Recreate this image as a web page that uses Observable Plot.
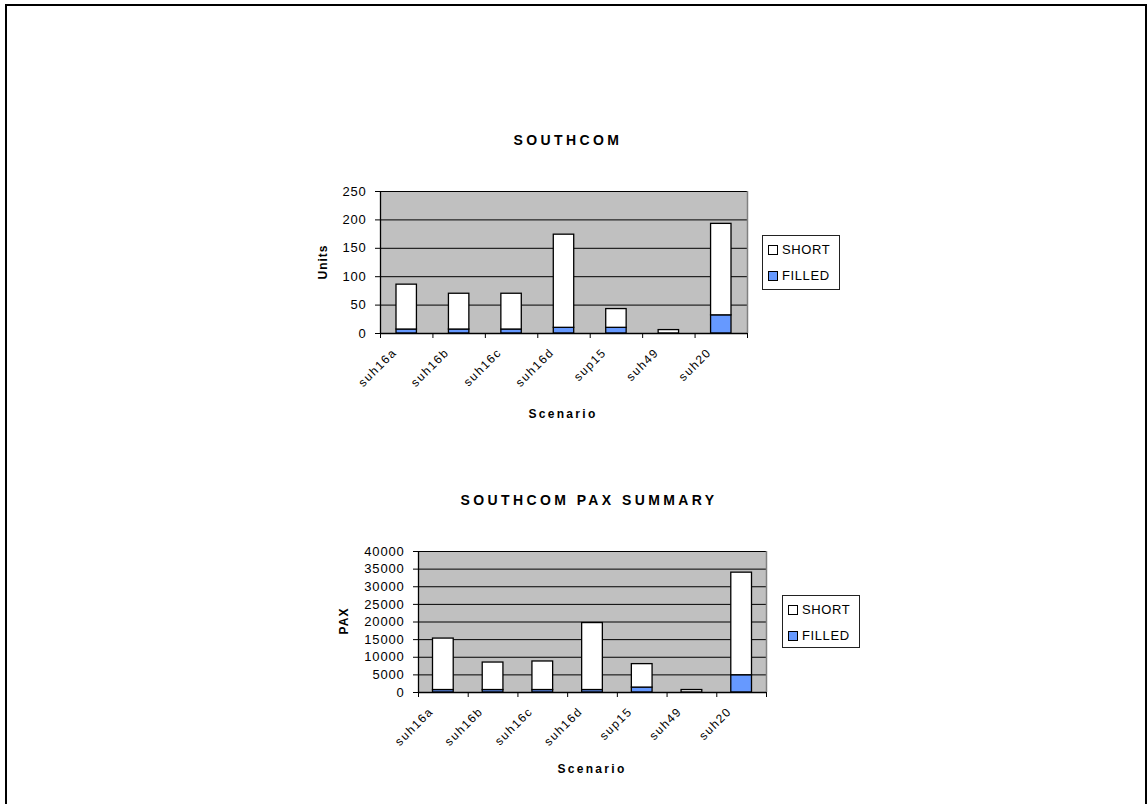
<!DOCTYPE html>
<html><head><meta charset="utf-8">
<script src="https://cdn.jsdelivr.net/npm/d3@7"></script>
<script src="https://cdn.jsdelivr.net/npm/@observablehq/plot@0.6"></script>
<style>
body{margin:0;width:1147px;height:804px;overflow:hidden;position:relative;background:#fff;font-family:"Liberation Sans",Arial,sans-serif;color:#000;}
.frame{position:absolute;left:5px;top:4px;width:1138px;height:900px;border:2px solid #000;border-bottom:none;}
.title{position:absolute;font-weight:bold;font-size:14px;letter-spacing:3.4px;transform:translate(-50%,-50%);white-space:nowrap;}
.alab{position:absolute;font-weight:bold;font-size:12px;letter-spacing:2.3px;transform:translate(-50%,-50%);white-space:nowrap;}
.alab.rot{letter-spacing:1px;transform:translate(-50%,-50%) rotate(-90deg);}
.chart{position:absolute;}
.legend{position:absolute;border:1px solid #222;background:#fff;box-sizing:border-box;}
.legend .item{position:absolute;left:5px;font-size:13px;letter-spacing:0.6px;white-space:nowrap;line-height:13px;}
.legend .sw{display:inline-block;width:8px;height:8px;border:1px solid #000;margin-right:4px;vertical-align:-1px;}
</style></head>
<body>
<div class="frame"></div>
<script>
const scenarios = ["suh16a","suh16b","suh16c","suh16d","sup15","suh49","suh20"];
const seriesNames = ["SHORT","FILLED"];
const unitsFilled = [7,7,7,10,10,0,32];
const unitsShort = [79,63,63,164,33,6,161];
const unitsTicks = [0,50,100,150,200,250];
const paxFilled = [700,700,700,700,1400,0,4900];
const paxShort = [14600,7800,8100,19000,6650,700,29100];
const paxTicks = [0,5000,10000,15000,20000,25000,30000,35000,40000];
const colors = {SHORT:"#ffffff", FILLED:"#6699ff"};

function addDiv(cls, text, x, y){
  const d=document.createElement("div"); d.className=cls; d.textContent=text;
  d.style.left=x+"px"; d.style.top=y+"px"; document.body.appendChild(d); return d;
}

function chart({short, filled, ticks, left, top, plotW, plotH, inset}){
  const mL=60, mR=12, mT=20, mB=80;
  const rows = scenarios.map((s,i)=>({s, i, short:short[i], filled:filled[i]}));
  const yMax = ticks[ticks.length-1];
  const p = Plot.plot({
    width: mL+plotW+mR, height: mT+plotH+mB,
    marginLeft:mL, marginRight:mR, marginTop:mT, marginBottom:mB,
    x:{domain:[0,scenarios.length], axis:null},
    y:{domain:[0,yMax], axis:null},
    style:{fontFamily:'"Liberation Sans",Arial,sans-serif', fontSize:"13px", background:"transparent", overflow:"visible", color:"#000"},
    marks:[
      Plot.frame({fill:"#c0c0c0", stroke:"none"}),
      Plot.gridY({ticks: ticks.slice(1), stroke:"#000", strokeOpacity:1, strokeWidth:1}),
      Plot.ruleX([scenarios.length], {stroke:"#808080", strokeWidth:1.5}),
      Plot.rectY(rows, {x1:d=>d.i, x2:d=>d.i+1, y1:0, y2:d=>d.filled, fill:colors.FILLED, stroke:"#000", strokeWidth:1.3, insetLeft:inset, insetRight:inset}),
      Plot.rectY(rows, {x1:d=>d.i, x2:d=>d.i+1, y1:d=>d.filled, y2:d=>d.filled+d.short, fill:colors.SHORT, stroke:"#000", strokeWidth:1.3, insetLeft:inset, insetRight:inset}),
      Plot.ruleX([0], {stroke:"#000", strokeWidth:1.3}),
      Plot.ruleY([0], {stroke:"#000", strokeWidth:1.3}),
      Plot.axisY({ticks, tickSize:5, tickPadding:9, tickFormat:d=>String(d), stroke:"#000"}),
      Plot.axisX({ticks:d3.range(0,scenarios.length+1), tickSize:5, tickFormat:()=>"", stroke:"#000"}),
      Plot.axisX({ticks:scenarios.map((s,i)=>i+0.5), tickSize:0, tickRotate:-45, tickPadding:17, dx:-12, fontSize:12, tickFormat:v=>scenarios[Math.floor(v)], className:"xlab"})
    ]
  });
  p.classList.add("chart");
  p.style.left=(left-mL)+"px"; p.style.top=(top-mT)+"px";
  p.querySelectorAll("text").forEach(t=>t.style.letterSpacing="0.8px");
  p.querySelectorAll("[aria-label='x-axis tick label'] text").forEach(t=>t.style.letterSpacing="1.5px");
  document.body.appendChild(p);
}

function legend(x,y,w,h,items){
  const L=document.createElement("div"); L.className="legend";
  Object.assign(L.style,{left:x+"px",top:y+"px",width:w+"px",height:h+"px"});
  items.forEach((it,k)=>{
    const r=document.createElement("div"); r.className="item"; r.style.top=(7+k*26)+"px";
    const s=document.createElement("span"); s.className="sw"; s.style.background=colors[it];
    r.appendChild(s); r.appendChild(document.createTextNode(it)); L.appendChild(r);
  });
  document.body.appendChild(L);
}

chart({short:unitsShort, filled:unitsFilled, ticks:unitsTicks, left:380, top:191, plotW:367, plotH:142, inset:16});
chart({short:paxShort, filled:paxFilled, ticks:paxTicks, left:418, top:551, plotW:348, plotH:141, inset:14.5});

addDiv("title","SOUTHCOM",568,140);
addDiv("title","SOUTHCOM PAX SUMMARY",589,500);
addDiv("alab rot","Units",323,262);
addDiv("alab rot","PAX",344,621);
addDiv("alab","Scenario",563,414);
addDiv("alab","Scenario",592,769);
legend(762,235,78,55,seriesNames);
legend(782,595,78,53,seriesNames);
</script>
</body></html>
